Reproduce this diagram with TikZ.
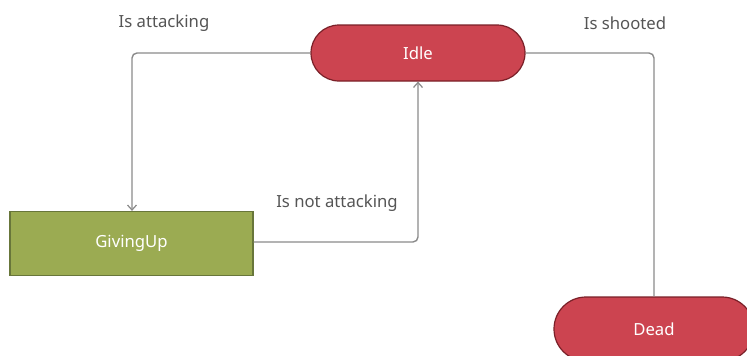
\documentclass[tikz,border=0pt]{standalone}
\usepackage{fontspec}
\setmainfont{Noto Sans}
\usetikzlibrary{arrows.meta}
\definecolor{statered}{HTML}{CC4450}
\definecolor{stateredline}{HTML}{7A2028}
\definecolor{stategreen}{HTML}{9BAB52}
\definecolor{stategreenline}{HTML}{68763A}
\definecolor{edgegray}{HTML}{8A8A8A}
\definecolor{labelgray}{HTML}{555555}
\tikzset{
  x=1pt, y=-1pt,
  basefont/.style={font=\fontsize{16.7}{19}\selectfont},
  redstate/.style={basefont, draw=stateredline, fill=statered, text=white,
    line width=1.2pt, rounded corners=28pt, minimum height=56pt,
    inner sep=0pt, anchor=center},
  greenstate/.style={basefont, draw=stategreenline, fill=stategreen, text=white,
    line width=1.2pt, minimum width=243pt, minimum height=64pt, inner sep=0pt},
  edge/.style={draw=edgegray, line width=1.4pt, rounded corners=5pt},
  arr/.style={-{Straight Barb[length=5pt,width=9pt,line width=1.2pt]}},
  elabel/.style={basefont, text=labelgray, inner sep=0pt}
}
\begin{document}
\begin{tikzpicture}
  \useasboundingbox (0,0) rectangle (747,356);
  \begin{scope}
    \clip (0,0) rectangle (747,356);
    \node[redstate, minimum width=214pt] (idle) at (418,53) {Idle};
    \node[greenstate] (giving) at (131.5,243.5) {GivingUp};
    \node[redstate, minimum width=200pt, minimum height=64pt,
          rounded corners=32pt] (dead) at (654,329) {Dead};

    \coordinate (c1) at (132,53);
    \coordinate (c2) at (418,242);
    \coordinate (c3) at (654,53);

    \draw[edge, arr] (idle.west) -- (c1) -- (giving.north -| c1);
    \draw[edge, arr] (giving.east |- c2) -- (c2) -- (idle.south);
    \draw[edge] (idle.east) -- (c3) -- (dead.north);

    \node[elabel] (l1) at (164,23.5) {Is attacking};
    \node[elabel] (l2) at (625,23.5) {Is shooted};
    \node[elabel] (l3) at (337,203.5) {Is not attacking};
  \end{scope}
\end{tikzpicture}
\end{document}
